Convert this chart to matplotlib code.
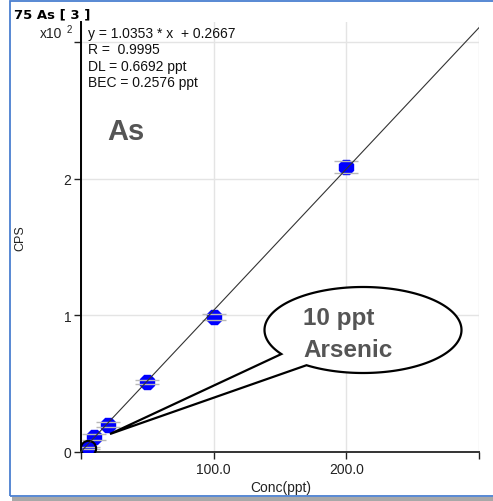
import numpy as np
import matplotlib
matplotlib.use("Agg")
import matplotlib.pyplot as plt
from matplotlib.patches import Rectangle, Polygon

plt.rcParams['font.family'] = ['Liberation Sans', 'DejaVu Sans']

# ---- data ----
conc = [5, 10, 20, 50, 100, 200]            # ppt
cps = [0.03, 0.11, 0.20, 0.51, 0.99, 2.09]  # x10^2 CPS
cps_err = [0.01, 0.02, 0.02, 0.015, 0.02, 0.045]
slope = 1.0353
intercept = 0.2667
xticks = [0, 100, 200, 300]
xticklabels = ["", "100.0", "200.0", ""]
yticks = [0, 1, 2, 3]
yticklabels = ["0", "1", "2", ""]
eq_lines = ["y = 1.0353 * x  + 0.2667", "R =  0.9995", "DL = 0.6692 ppt", "BEC = 0.2576 ppt"]

W, H = 493, 502
fig = plt.figure(figsize=(W / 100, H / 100), dpi=100)
fig.patch.set_facecolor('white')

def px(x, y):
    return (x / W, 1 - y / H)

ax = fig.add_axes([81 / W, 1 - 453 / H, 398 / W, 430 / H])
ax.set_xlim(0, 300)
ax.set_ylim(0, 3.15)
ax.set_facecolor('white')
for s in ['top', 'right']:
    ax.spines[s].set_visible(False)
ax.spines['left'].set_linewidth(1.4)
ax.spines['bottom'].set_linewidth(1.4)
ax.spines['bottom'].set_color('#333333')

ax.set_xticks(xticks)
ax.set_xticklabels(xticklabels)
ax.set_yticks(yticks)
ax.set_yticklabels(yticklabels)
ax.tick_params(axis='both', direction='out', length=5, width=1, labelsize=10, pad=2, colors='#222222')
ax.grid(True, color='#e4e4e4', linewidth=1)
ax.set_axisbelow(True)

# fit line
xf = np.array([0, 300])
yf = (slope * xf + intercept) / 100
ax.plot(xf, yf, color='#333333', lw=0.8, zorder=5)

# points
ax.plot(conc, cps, linestyle='none', marker='8', ms=11, color='#0000ff', mec='#0000ff', zorder=3)
ax.errorbar(conc, cps, yerr=cps_err, fmt='none', ecolor='#b8b8b8', elinewidth=0,
            capsize=8.5, capthick=1, zorder=4)
# ring around blank point
ax.plot([conc[0]], [cps[0]], linestyle='none', marker='o', ms=11, mfc='none', mec='black', mew=1.5, zorder=4)

# texts
fig.text(*px(14, 18), "75 As [ 3 ]", fontsize=9.5, fontweight='bold', family='DejaVu Sans', va='baseline', ha='left')
fig.text(*px(40, 38), "x10", fontsize=10, va='baseline', ha='left', color='#222222')
fig.text(*px(67, 33), "2", fontsize=7, va='baseline', ha='left', color='#222222')
for i, t in enumerate(eq_lines):
    fig.text(*px(88, 38 + i * 16.4), t, fontsize=10, va='baseline', ha='left', color='#111111')
fig.text(*px(126, 132), "As", fontsize=21, fontweight='bold', color='#555555', ha='center', va='center')
fig.text(*px(20, 238), "CPS", fontsize=9, rotation=90, ha='center', va='center', color='#222222')
fig.text(*px(250, 492), "Conc(ppt)", fontsize=10, ha='left', va='baseline', color='#222222')

# callout bubble
cx, cy, a, b = 363, 331, 98.5, 43
th1, th2 = np.deg2rad(146), np.deg2rad(125 + 360)
th = np.linspace(th1, th2, 200)
pts = [(cx + a * np.cos(t), cy + b * np.sin(t)) for t in th]
pts.append((110, 435))
pts = [px(x, y) for x, y in pts]
fig.add_artist(Polygon(pts, closed=True, transform=fig.transFigure, facecolor='white',
                       edgecolor='black', lw=1.6, zorder=10))
fig.text(*px(303, 325), "10 ppt", fontsize=17.5, fontweight='bold', color='#555555', ha='left', va='baseline', zorder=11)
fig.text(*px(303, 357), "Arsenic", fontsize=17.5, fontweight='bold', color='#555555', ha='left', va='baseline', zorder=11)

# frame
fig.add_artist(Rectangle(px(10, 497), (W + 10) / W, 495 / H, transform=fig.transFigure,
                         fill=False, edgecolor='#4a7fd0', lw=1.3, zorder=20))
fig.add_artist(Rectangle(px(12, 502), 1, 4 / H, transform=fig.transFigure,
                         facecolor='#a8a8a8', edgecolor='none', zorder=19))

fig.savefig("out.png", dpi=100)
